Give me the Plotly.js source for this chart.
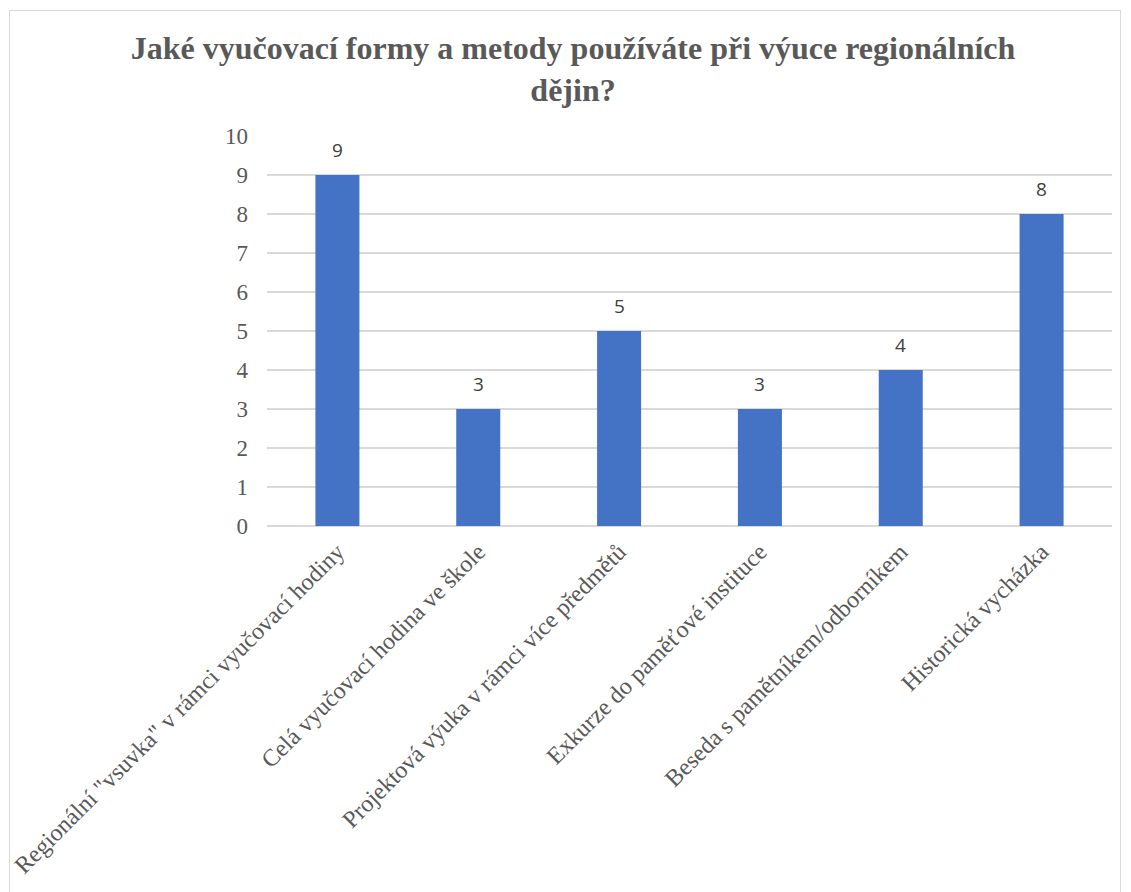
<!DOCTYPE html>
<html>
<head>
<meta charset="utf-8">
<script src="https://cdn.plot.ly/plotly-3.0.1.min.js"></script>
<style>
  html, body { margin: 0; padding: 0; background: #fff; }
  #wrap { position: relative; width: 1131px; height: 892px; }
  #chart { position: absolute; left: 0; top: 0; width: 1131px; height: 892px; }
  #frame { position: absolute; left: 9px; top: 10px; width: 1112px; height: 890px; border: 1.5px solid #d9d9d9; box-sizing: border-box; pointer-events: none; }
</style>
</head>
<body>
<div id="wrap">
  <div id="chart"></div>
  <div id="frame"></div>
</div>
<script>
const categories = [
  'Regionální "vsuvka" v rámci vyučovací hodiny',
  'Celá vyučovací hodina ve škole',
  'Projektová výuka v rámci více předmětů',
  'Exkurze do paměťové instituce',
  'Beseda s pamětníkem/odborníkem',
  'Historická vycházka'
];
const values = [9, 3, 5, 3, 4, 8];
const yTicks = [0, 1, 2, 3, 4, 5, 6, 7, 8, 9, 10];
const titleText = 'Jaké vyučovací formy a metody používáte při výuce regionálních<br>dějin?';

const serif = '"Liberation Serif", "Times New Roman", serif';
const grey = '#595959';

const trace = {
  type: 'bar',
  x: categories,
  y: values,
  marker: { color: '#4472c4' },
  hoverinfo: 'x+y'
};

const annotations = categories.map((c, i) => ({
  x: c,
  y: values[i],
  xref: 'x',
  yref: 'y',
  text: String(values[i]),
  showarrow: false,
  yanchor: 'middle',
  yshift: 25,
  font: { family: '"Open Sans", "Liberation Sans", sans-serif', size: 19, color: '#404040' }
}));

const layout = {
  width: 1131,
  height: 892,
  margin: { l: 267, r: 19, t: 136, b: 366 },
  paper_bgcolor: '#ffffff',
  plot_bgcolor: '#ffffff',
  showlegend: false,
  bargap: 0.6875,
  title: {
    text: titleText,
    font: { family: serif, size: 32, color: grey, weight: 'bold' },
    x: 573 / 1131,
    xref: 'container',
    xanchor: 'center',
    y: 1 - 59 / 892,
    yref: 'container',
    yanchor: 'top'
  },
  xaxis: {
    type: 'category',
    tickangle: -45,
    tickfont: { family: serif, size: 24, color: grey },
    showgrid: false,
    showline: false,
    ticks: '',
    ticklabelstandoff: 6,
    automargin: false
  },
  yaxis: {
    range: [0, 10],
    tickvals: yTicks,
    ticktext: yTicks.map(String),
    tickfont: { family: serif, size: 23, color: grey },
    gridcolor: '#d9d9d9',
    gridwidth: 1.5,
    zeroline: true,
    zerolinecolor: '#d9d9d9',
    zerolinewidth: 1.5,
    showline: false,
    ticks: '',
    ticklabelstandoff: 18,
    automargin: false
  },
  annotations: annotations
};

Plotly.newPlot('chart', [trace], layout, { displayModeBar: false, staticPlot: true });
</script>
</body>
</html>
